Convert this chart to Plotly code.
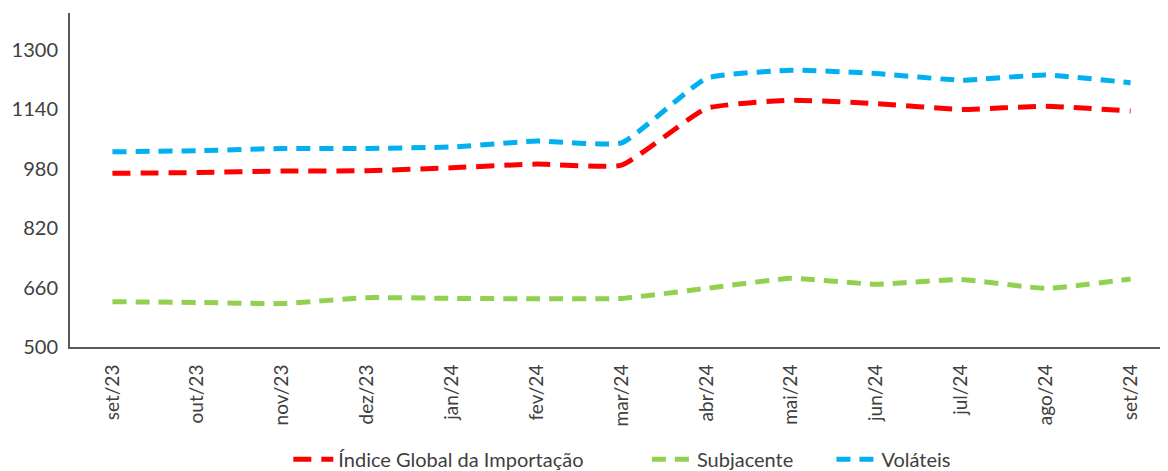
import plotly.graph_objects as go

months = ["set/23", "out/23", "nov/23", "dez/23", "jan/24", "fev/24", "mar/24",
          "abr/24", "mai/24", "jun/24", "jul/24", "ago/24", "set/24"]

indice_global = [968, 970, 974, 975, 983, 993, 990, 1143, 1165, 1156, 1140, 1149, 1136]
subjacente = [622, 620, 617, 633, 631, 630, 631, 658, 685, 669, 682, 658, 683]
volateis = [1026, 1029, 1035, 1035, 1039, 1055, 1050, 1224, 1246, 1237, 1219, 1233, 1212]

y_ticks = [500, 660, 820, 980, 1140, 1300]

series = [
    ("Índice Global da Importação", indice_global, "#FF0000", "18px,10px", "legend"),
    ("Subjacente", subjacente, "#92D050", "14px,9px", "legend2"),
    ("Voláteis", volateis, "#00B0F0", "14px,9px", "legend3"),
]

fig = go.Figure()
for name, vals, color, dash, leg in series:
    fig.add_trace(go.Scatter(
        x=months, y=vals, name=name, mode="lines", legend=leg,
        line=dict(color=color, width=5, dash=dash, shape="spline", smoothing=0.4),
    ))


def legend_at(x):
    return dict(orientation="h", xref="container", x=x, xanchor="left",
                yref="container", y=0.042, yanchor="middle",
                font=dict(size=20, color="#404040"), itemwidth=40)


# the page body adds ~8px offset, so margins are shifted accordingly
fig.update_layout(
    width=1168, height=471,
    margin=dict(l=62, r=3, t=5, b=132, autoexpand=False),
    plot_bgcolor="white", paper_bgcolor="white",
    font=dict(family="Lato, Open Sans, sans-serif", size=19, color="#404040"),
    showlegend=True,
    legend=legend_at(0.240),
    legend2=legend_at(0.547),
    legend3=legend_at(0.705),
)
fig.update_xaxes(
    type="category", range=[-0.5, 12.5], tickangle=-90,
    showline=True, linecolor="#595959", linewidth=2,
    showgrid=False, ticks="", ticklabelstandoff=8,
    tickfont=dict(size=19, color="#404040"),
)
fig.update_yaxes(
    range=[500, 1400], tickvals=y_ticks,
    showline=True, linecolor="#595959", linewidth=2,
    showgrid=False, zeroline=False, ticks="", ticklabelstandoff=6,
    tickfont=dict(size=20, color="#404040"),
)

fig.write_html("out.html")
